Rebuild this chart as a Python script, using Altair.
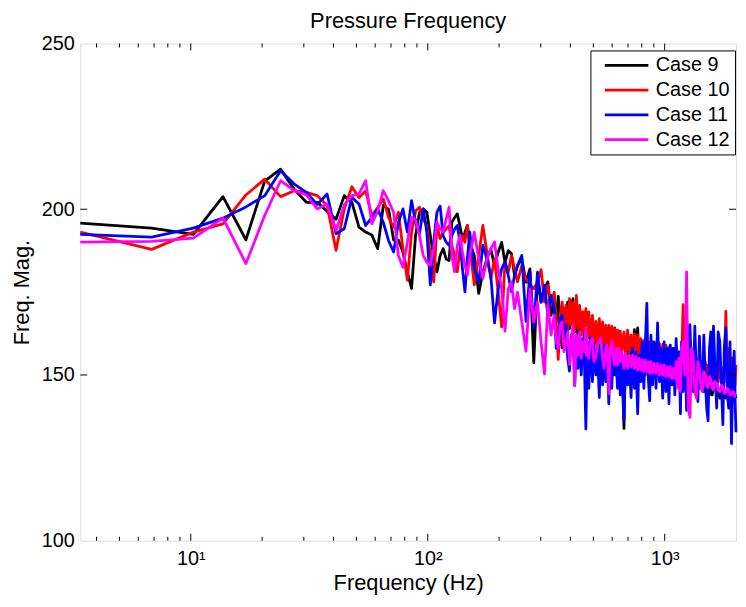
import altair as alt
import pandas as pd

DF = 3.418
BINS = [1, 2, 3, 4, 5, 6, 7, 8, 9, 10, 11, 12, 13, 14, 15, 16, 17, 18, 19, 20,
        21, 22, 23, 24, 25, 26, 27, 28, 29,
        30, 31, 32, 33, 34, 35, 36, 37, 38, 39, 40, 41, 42, 43, 44,
        46, 48, 50, 52, 54, 56, 58, 60, 62, 64, 66, 68, 70,
        73, 76, 79, 82, 85, 88, 91, 94, 97,
        100, 102, 104, 106, 108, 110, 112, 114, 116, 118, 120, 122, 124, 126, 128, 130, 132, 134, 136, 138, 140,
        142, 145, 147, 150, 152, 155, 157, 160, 162, 165, 167, 170, 172, 175, 177, 180, 182, 185, 187, 190,
        193, 197, 200, 204, 207, 211, 214, 218, 221, 225, 228, 232, 235, 239, 242, 246, 249, 253, 256, 260,
        264, 269, 273, 278, 282, 287, 291, 296, 300, 305, 309, 314, 318, 323, 327, 332, 336, 341, 345, 350,
        356, 362, 368, 374, 380, 386, 392, 398, 404, 410, 416, 422, 428, 434, 440, 446, 452, 458, 464, 470,
        477, 485, 492, 500, 507, 515, 522, 530, 537, 545, 552, 560, 567, 575, 580, 585]

CASE9 = [195.8, 194.3, 192.4, 203.8, 190.8, 208.5, 212.1, 206.0, 202.1, 202.1,
         199.4, 197.0, 204.1, 202.1, 194.6, 193.1, 192.2, 188.1, 201.2, 200.0,
         190.7, 190.7, 187.0, 181.0, 176.1, 192.1, 199.0, 200.1, 199.1,
         192, 186, 181.1, 186, 188.1, 185, 184.5, 196.1, 197.5, 198.6, 195, 191, 193, 195.1, 190,
         186, 174.6, 181, 185, 188, 183, 187, 190, 184, 187.5, 186.6, 180, 183,
         185, 178, 182, 153.7, 179.6, 172, 176, 178.1, 168,
         174, 166, 173.7, 163, 158.2, 170, 166, 172, 164, 170, 173, 163, 168, 161, 170.1, 164, 168, 160, 169.2, 163, 167,
         160, 166, 158, 165, 160, 164, 150.2, 163, 157, 164, 158, 162, 156, 163, 157, 164.2, 155, 162, 156, 160,
         154, 133.9, 158, 160, 153, 161, 155, 163.7, 156, 164.2, 155, 160, 153, 159, 150, 157, 152, 158, 151, 156,
         150, 156, 151, 155, 149, 154, 150, 155, 149, 154, 150, 153, 148, 153, 149, 152, 148, 152, 149, 151,
         148, 152, 147, 151, 147, 150, 146, 150, 146, 149, 146, 149, 145, 148, 145, 148, 144, 147, 144, 146,
         147, 144, 146, 143, 146, 143, 145, 143, 145, 142, 144, 142, 144, 142, 144, 143]

CASE10 = [193.1, 187.9, 193.1, 195.6, 204.3, 209.1, 203.8, 205.6, 205.1, 204.1,
          201.1, 187.6, 200.1, 206.8, 203.5, 205.5, 198.1, 200.5, 203.1, 197.5,
          194.6, 199.1, 188.0, 178.6, 193.0, 199.5, 200.6, 197.0, 195.1,
          186, 178.1, 195.1, 191.1, 193, 194.1, 195, 189, 186, 181.1, 188, 192, 190, 195.1, 189,
          177.2, 186, 195.1, 187, 179.1, 185, 175, 164.5, 184.1, 181, 186, 182, 178.1,
          183, 179, 177.2, 176, 178, 181.8, 172, 177, 171,
          175, 166, 154.7, 168, 172, 164, 171, 163, 173, 165, 172, 163, 174, 164, 171, 162, 169, 163, 170, 161, 169,
          161, 168, 160, 166.2, 159, 167, 160, 166, 158, 165, 159, 165, 158, 164.7, 158, 164, 157, 163.5, 157, 163.2,
          157, 163, 156, 163.5, 157, 162, 156, 162.5, 156, 162, 155, 161, 155, 160.5, 155, 160.2, 154, 160, 154, 160,
          154, 159.5, 154, 159.5, 153, 159.2, 153, 159, 153, 158.5, 152, 158, 152, 158, 152, 157, 152, 157, 155, 171.2,
          152, 155, 151, 156, 151, 155, 150, 155, 150, 154, 150, 154, 149, 154, 149, 153, 149, 153, 148, 153,
          148, 153, 148, 154, 149, 152, 148, 169.2, 150, 158, 149, 155.2, 148, 152, 147, 153]

CASE11 = [192.4, 191.6, 194.3, 197.3, 200.7, 204.1, 211.6, 207.6, 205.1, 201.4,
          204.6, 192.6, 194.1, 203.6, 201.6, 195.1, 197.5, 200.1, 196.0, 190.5,
          187.1, 196.0, 200.1, 193.1, 202.6, 196.0, 192.6, 200.1, 193.1,
          177.2, 190, 199.1, 200.9, 192, 190.1, 189.1, 192, 194, 195.1, 190, 182, 175.1, 185, 193.1,
          182, 178.1, 189.1, 185, 180, 165.7, 176, 182, 184.1, 180, 175.1, 180, 183,
          186.1, 166.2, 181.1, 164.2, 181, 172, 177, 168, 174,
          170.1, 158, 160, 167, 168, 159, 165.2, 155, 151.2, 162, 163, 146.8, 160, 152, 163.2, 150, 161, 155, 133.7, 160, 146,
          161.2, 148, 159, 150, 158, 143.2, 158.2, 147, 159, 148, 157, 141.3, 156, 146, 157, 150, 156, 146, 157.2, 144,
          156, 136.3, 155, 147, 156, 143.2, 158.2, 146, 157, 138.3, 156, 148, 160, 146, 158, 171.6, 150, 142.2, 162, 147,
          160, 146, 165.7, 148, 158, 143, 160, 145, 158, 141.3, 159, 147, 158, 144, 161, 149, 157, 138.3, 160, 145,
          158, 139.3, 163, 165.2, 150, 145, 164.7, 150, 142, 161.7, 148, 146, 162, 149, 140, 136.2, 158, 163, 148, 164.7,
          152, 140, 163, 160, 148, 135, 158, 164.2, 145, 140, 160, 129.3, 150, 157.2, 142, 132.7]

CASE12 = [190.1, 190.3, 191.3, 197.3, 183.6, 198.1, 208.6, 205.6, 204.3, 200.1,
          201.6, 193.6, 201.3, 204.1, 204.6, 208.6, 195.6, 199.5, 205.6, 202.5,
          199.1, 186.0, 182.5, 190.0, 197.6, 197.0, 192.0, 186.1, 184.0,
          183, 188, 196.1, 194, 193.1, 197, 200.6, 186, 181.1, 189, 192.1, 187, 183, 180.1, 186,
          193.1, 185, 179.1, 185, 188, 190.1, 182, 176, 163.2, 176, 178.1, 170, 175,
          166, 157.2, 176, 166, 172, 160, 150.3, 171.2, 162,
          168, 160, 158, 165, 166, 157, 160, 163, 153.2, 160, 165, 146.8, 162, 156, 163, 155, 160, 157, 164.2, 156, 155,
          160, 161, 154, 155.2, 159, 160, 161.2, 155, 152, 158, 159, 144.4, 157, 160.2, 156, 153, 158, 153, 158, 154,
          157, 152, 156.5, 152, 156, 152.5, 156, 152, 155.5, 151.5, 155, 151.5, 154.5, 151, 154.5, 151, 154, 150.5, 154, 150.5,
          153.5, 150.5, 153.5, 150, 153, 150, 153, 149.5, 152.5, 149.5, 152.5, 149, 152, 149, 154, 146, 155, 145, 158, 160,
          150, 181.1, 140, 137.2, 158, 156, 145, 143, 154, 152, 146, 145, 151, 150, 146.5, 146.3, 149.5, 148.5, 146, 145.5,
          148, 147.5, 145.5, 145, 147, 146.5, 144.5, 144.5, 146, 145.5, 144, 144, 145, 144.5, 143.5, 143.6]

CASES = ["Case 9", "Case 10", "Case 11", "Case 12"]
COLORS = ["#000000", "#ff0000", "#0000ff", "#ff00ff"]
SERIES = [CASE9, CASE10, CASE11, CASE12]

X_MAJOR = [10, 100, 1000]
X_MINOR = [4, 5, 6, 7, 8, 9, 20, 30, 40, 50, 60, 70, 80, 90,
           200, 300, 400, 500, 600, 700, 800, 900]
Y_TICKS = [100, 150, 200, 250]
Y_INNER = [150, 200]

rows = []
for name, vals in zip(CASES, SERIES):
    for k, v in zip(BINS, vals):
        rows.append({"case": name, "freq": round(DF * k, 4), "mag": v})
df = pd.DataFrame(rows)

W, H = 662, 502
FONT = "Liberation Sans"

xscale = alt.Scale(type="log", domain=[DF, 2000], nice=False)
yscale = alt.Scale(domain=[100, 250], nice=False, zero=False)

x_axis = alt.Axis(values=X_MAJOR, title="Frequency (Hz)", ticks=False, domain=False, grid=False,
                  labelExpr="datum.value == 10 ? '10\u00b9' : datum.value == 100 ? '10\u00b2' : '10\u00b3'",
                  labelFontSize=20, labelPadding=8, titleFontSize=22, titlePadding=4,
                  labelFont=FONT, titleFont=FONT, titleFontWeight="normal",
                  labelColor="black", titleColor="black")
y_axis = alt.Axis(values=Y_TICKS, title="Freq. Mag.", ticks=False, domain=False, grid=False,
                  labelFontSize=20, labelPadding=6, titleFontSize=22, titlePadding=8,
                  labelFont=FONT, titleFont=FONT, titleFontWeight="normal",
                  labelColor="black", titleColor="black")

color = alt.Color("case:N", scale=alt.Scale(domain=CASES, range=COLORS),
                  legend=alt.Legend(title=None, orient="none", legendX=515, legendY=7,
                                    symbolType="stroke", symbolSize=1936, symbolStrokeWidth=2.8,
                                    labelFontSize=20, labelFont=FONT, labelColor="black",
                                    strokeColor="black", fillColor="white", padding=5,
                                    rowPadding=5, labelOffset=6, clipHeight=20,
                                    symbolOffset=8, cornerRadius=0))

layers = []
for name in CASES:
    layers.append(
        alt.Chart(df[df["case"] == name]).mark_line(strokeWidth=2.8, strokeJoin="round").encode(
            x=alt.X("freq:Q", scale=xscale, axis=x_axis),
            y=alt.Y("mag:Q", scale=yscale, axis=y_axis),
            color=color,
            order=alt.Order("freq:Q"),
        )
    )

xmaj = pd.DataFrame({"t": X_MAJOR})
xmin = pd.DataFrame({"t": X_MINOR})
yin = pd.DataFrame({"t": Y_INNER})

def xticks(data, length):
    bottom = alt.Chart(data).mark_rule(color="black", strokeWidth=1).encode(
        x=alt.X("t:Q", scale=xscale, axis=x_axis), y=alt.value(H), y2=alt.value(H - length))
    top = alt.Chart(data).mark_rule(color="black", strokeWidth=1).encode(
        x=alt.X("t:Q", scale=xscale, axis=x_axis), y=alt.value(0), y2=alt.value(length))
    return [bottom, top]

ytick_left = alt.Chart(yin).mark_rule(color="black", strokeWidth=1).encode(
    y=alt.Y("t:Q", scale=yscale, axis=y_axis), x=alt.value(0), x2=alt.value(7))
ytick_right = alt.Chart(yin).mark_rule(color="black", strokeWidth=1).encode(
    y=alt.Y("t:Q", scale=yscale, axis=y_axis), x=alt.value(W), x2=alt.value(W - 7))

chart = alt.layer(*layers, *xticks(xmaj, 7), *xticks(xmin, 4), ytick_left, ytick_right).properties(
    width=W, height=H,
    title=alt.TitleParams("Pressure Frequency", fontSize=22, font=FONT, fontWeight="normal",
                          anchor="middle", offset=1, color="black"),
    padding={"left": 73, "top": 33, "right": 2, "bottom": 56},
    autosize=alt.AutoSizeParams(type="none"),
).configure_view(stroke="black", strokeWidth=1).configure(background="white")

chart.save("out.html", embed_options={"renderer": "svg", "actions": False})
